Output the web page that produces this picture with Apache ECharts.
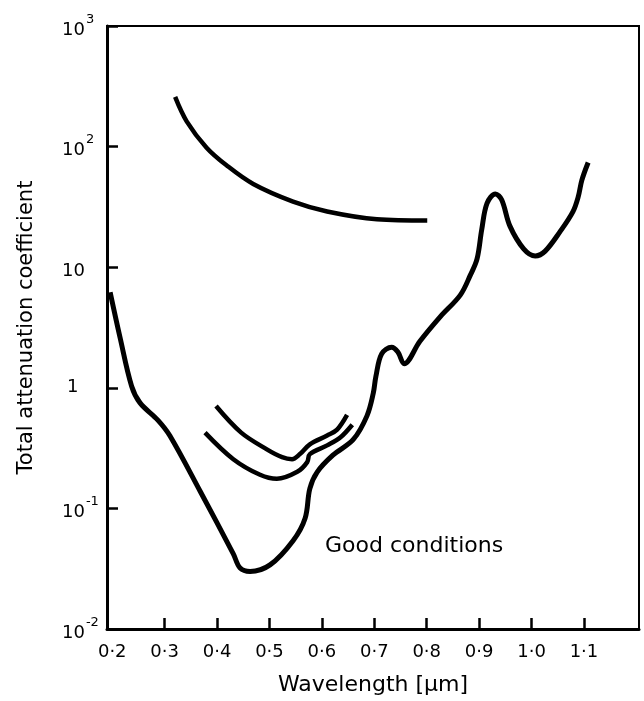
<!DOCTYPE html>
<html>
<head>
<meta charset="utf-8">
<script src="https://cdn.jsdelivr.net/npm/echarts@6/dist/echarts.min.js"></script>
<style>
  html, body { margin: 0; padding: 0; background: #fff; }
  #chart { width: 644px; height: 701px; }
</style>
</head>
<body>
<div id="chart"></div>
<script>
// lower envelope (main curve)
var mainWl = [0.196, 0.215, 0.237, 0.253, 0.287, 0.310, 0.368, 0.431, 0.444, 0.463, 0.501, 0.545, 0.568, 0.577, 0.591, 0.621, 0.660, 0.686, 0.698, 0.703, 0.714, 0.733, 0.745, 0.757, 0.787, 0.826, 0.864, 0.883, 0.896, 0.905, 0.915, 0.931, 0.943, 0.959, 0.985, 1.007, 1.026, 1.055, 1.079, 1.089, 1.096, 1.108];
var mainVal = [6.2, 2.6, 1.03, 0.75, 0.54, 0.40, 0.138, 0.042, 0.032, 0.030, 0.034, 0.054, 0.083, 0.146, 0.20, 0.276, 0.373, 0.585, 0.90, 1.24, 1.91, 2.17, 1.98, 1.58, 2.43, 3.89, 5.87, 8.55, 11.7, 20.6, 33.8, 40.5, 36.2, 21.8, 14.2, 12.4, 13.6, 19.9, 28.9, 38.3, 52.7, 73.8];

// top curve
var topWl = [0.320, 0.342, 0.380, 0.418, 0.469, 0.545, 0.610, 0.705, 0.801];
var topVal = [258, 162, 98, 70, 49, 35, 29, 25, 24.4];

// the two short curves in the middle
var midLowWl = [0.377, 0.431, 0.482, 0.514, 0.553, 0.572, 0.577, 0.610, 0.635, 0.658];
var midLowVal = [0.425, 0.256, 0.19, 0.176, 0.201, 0.242, 0.282, 0.333, 0.387, 0.494];
var midHighWl = [0.398, 0.446, 0.495, 0.524, 0.543, 0.558, 0.577, 0.610, 0.629, 0.648];
var midHighVal = [0.706, 0.425, 0.309, 0.266, 0.256, 0.282, 0.340, 0.402, 0.450, 0.596];

var xLabels = [0.2, 0.3, 0.4, 0.5, 0.6, 0.7, 0.8, 0.9, 1.0, 1.1];
var yLabels = { '0.01': '{b|10}{s|-2}', '0.1': '{b|10}{s|-1}', '1': '{one|1}', '10': '{b|10}', '100': '{b|10}{s|2}', '1000': '{b|10}{s|3}' };

function pairs(xs, ys) {
  return xs.map(function (x, i) { return [x, ys[i]]; });
}

var FONT = 'DejaVu Sans';
var myChart = echarts.init(document.getElementById('chart'), null, { renderer: 'canvas' });

function curve(name, xs, ys, w) {
  return {
    name: name,
    type: 'line',
    smooth: 0.35,
    showSymbol: false,
    silent: true,
    lineStyle: { color: '#000', width: w },
    data: pairs(xs, ys)
  };
}

myChart.setOption({
  animation: false,
  backgroundColor: '#fff',
  grid: {
    left: 107, right: 5, top: 26, bottom: 61,
    show: true, borderColor: '#000', borderWidth: 2
  },
  xAxis: {
    type: 'value',
    min: 0.19,
    max: 1.205,
    name: 'Wavelength [μm]',
    nameLocation: 'middle',
    nameGap: 45,
    nameTextStyle: { color: '#000', fontFamily: FONT, fontSize: 22 },
    axisLine: { lineStyle: { color: '#000', width: 3 } },
    axisTick: {
      inside: true, length: 11, lineStyle: { color: '#000', width: 2.5 },
      customValues: xLabels.slice(1)
    },
    axisLabel: {
      color: '#000', fontFamily: FONT, fontSize: 18, margin: 14,
      customValues: xLabels,
      formatter: function (v) { return v.toFixed(1).replace('.', '·'); }
    },
    splitLine: { show: false }
  },
  yAxis: {
    type: 'log',
    logBase: 10,
    min: 0.01,
    max: 1000,
    splitNumber: 5,
    name: 'Total attenuation coefficient',
    nameLocation: 'middle',
    nameGap: 70,
    nameTextStyle: { color: '#000', fontFamily: FONT, fontSize: 21 },
    axisLine: { show: true, lineStyle: { color: '#000', width: 3 } },
    axisTick: { show: true, inside: true, length: 11, lineStyle: { color: '#000', width: 2.5 } },
    axisLabel: {
      color: '#000', fontFamily: FONT, margin: 45, align: 'left',
      formatter: function (v) {
        var k = String(+v.toPrecision(3));
        return yLabels[k] || '';
      },
      rich: {
        b: { fontFamily: FONT, fontSize: 18, color: '#000', lineHeight: 26, verticalAlign: 'bottom' },
        s: { fontFamily: FONT, fontSize: 13, color: '#000', lineHeight: 26, verticalAlign: 'top', padding: [0, 0, 0, 1] },
        one: { fontFamily: FONT, fontSize: 18, color: '#000', lineHeight: 26, padding: [0, 0, 0, 5] }
      }
    },
    splitLine: { show: false }
  },
  graphic: [{
    type: 'text',
    left: 325,
    top: 535,
    style: { text: 'Good conditions', fill: '#000', font: '22px "DejaVu Sans"' }
  }],
  series: [
    curve('main', mainWl, mainVal, 5),
    curve('top', topWl, topVal, 4.5),
    curve('midLow', midLowWl, midLowVal, 4.5),
    curve('midHigh', midHighWl, midHighVal, 4.5)
  ]
});
</script>
</body>
</html>
